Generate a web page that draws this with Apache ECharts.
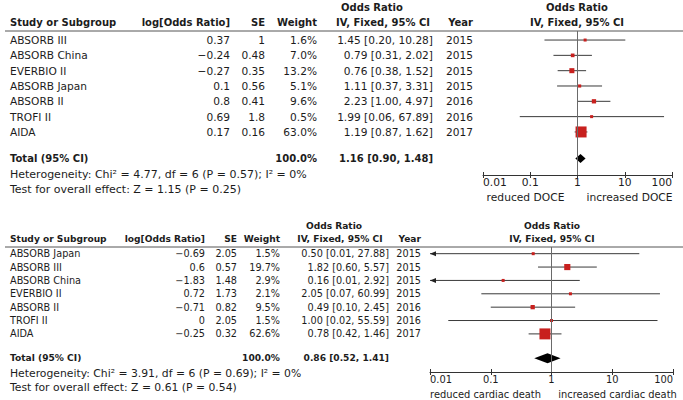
<!DOCTYPE html>
<html>
<head>
<meta charset="utf-8">
<script src="https://cdn.jsdelivr.net/npm/echarts@6/dist/echarts.min.js"></script>
<style>
  html, body { margin: 0; background: #fff; }
  #chart { width: 683px; height: 400px; }
</style>
</head>
<body>
<div id="chart"></div>
<script>
// --- top panel: DOCE ---
var studiesA = ['ABSORB III', 'ABSORB China', 'EVERBIO II', 'ABSORB Japan', 'ABSORB II', 'TROFI II', 'AIDA']
var logOrA = [0.37, -0.24, -0.27, 0.1, 0.8, 0.69, 0.17]
var seA = [1, 0.48, 0.35, 0.56, 0.41, 1.8, 0.16]
var weightA = [1.6, 7.0, 13.2, 5.1, 9.6, 0.5, 63.0]
var orA = [1.45, 0.79, 0.76, 1.11, 2.23, 1.99, 1.19]
var loA = [0.20, 0.31, 0.38, 0.37, 1.00, 0.06, 0.87]
var hiA = [10.28, 2.02, 1.52, 3.31, 4.97, 67.89, 1.62]
var yearA = [2015, 2015, 2015, 2015, 2016, 2016, 2017]
var totalA = [1.16, 0.90, 1.48]   // OR, lower, upper
var hetA = ['4.77', '6', '0.57', '0%']   // Chi2, df, P, I2
var testA = ['1.15', '0.25']             // Z, P
var sideA = ['reduced DOCE', 'increased DOCE']

// --- bottom panel: cardiac death ---
var studiesB = ['ABSORB Japan', 'ABSORB III', 'ABSORB China', 'EVERBIO II', 'ABSORB II', 'TROFI II', 'AIDA']
var logOrB = [-0.69, 0.6, -1.83, 0.72, -0.71, 0, -0.25]
var seB = [2.05, 0.57, 1.48, 1.73, 0.82, 2.05, 0.32]
var weightB = [1.5, 19.7, 2.9, 2.1, 9.5, 1.5, 62.6]
var orB = [0.50, 1.82, 0.16, 2.05, 0.49, 1.00, 0.78]
var loB = [0.01, 0.60, 0.01, 0.07, 0.10, 0.02, 0.42]
var hiB = [27.88, 5.57, 2.92, 60.99, 2.45, 55.59, 1.46]
var yearB = [2015, 2015, 2015, 2015, 2016, 2016, 2017]
var totalB = [0.86, 0.52, 1.41]
var hetB = ['3.91', '6', '0.69', '0%']
var testB = ['0.61', '0.54']
var sideB = ['reduced cardiac death', 'increased cardiac death']

var FONT = '"DejaVu Sans", sans-serif'
var INK = '#1c1c1c'
var RED = '#c8201e'

var panels = [
  {
    studies: studiesA, logOr: logOrA, se: seA, weight: weightA, or: orA, lo: loA, hi: hiA, year: yearA,
    total: totalA, het: hetA, test: testA, side: sideA,
    grid: { left: 483, right: 11, top: 31, height: 144 },
    yMin: -0.59, yMax: 8.81, totalRow: 7.73,
    cols: { study: 10, logOr: 230, se: 265, weight: 317, ci: 433, year: 473 },
    fs: 10.6, hfs: 10, axFs: 10.7, headY: 22, orHeadY: 7, orHeadX: 372, ivHeadX: 383, plotHeadX: 577,
    ruleY: 31, hetY: 174, testY: 189, hetFs: 11, sideW: 92, sideGap: 6, diamond: 4.5
  },
  {
    studies: studiesB, logOr: logOrB, se: seB, weight: weightB, or: orB, lo: loB, hi: hiB, year: yearB,
    total: totalB, het: hetB, test: testB, side: sideB,
    grid: { left: 430, right: 10, top: 247, height: 128 },
    yMin: -0.5, yMax: 8.85, totalRow: 7.83,
    cols: { study: 10, logOr: 205, se: 237, weight: 280, ci: 389, year: 421 },
    fs: 9.7, hfs: 9.1, axFs: 9.9, headY: 239, orHeadY: 226, orHeadX: 334, ivHeadX: 340, plotHeadX: 552,
    ruleY: 247, hetY: 373.5, testY: 387.5, hetFs: 10.8, sideW: 122, sideGap: 5, diamond: 5
  }
]

function num(v) { return String(v).replace('-', '\u2212') }
function ci(o, l, h) { return o.toFixed(2) + ' [' + l.toFixed(2) + ', ' + h.toFixed(2) + ']' }

function txt(x, y, s, align, size, bold) {
  return {
    type: 'text', x: x, y: y, silent: true,
    style: { text: s, align: align, verticalAlign: 'middle', fontSize: size, fontFamily: FONT,
             fontWeight: bold ? 'bold' : 'normal', fill: INK, lineHeight: Math.round(size + 1) }
  }
}

var grids = [], xAxes = [], yAxes = [], series = [], graphics = []

panels.forEach(function (p, k) {
  grids.push(Object.assign({ containLabel: false }, p.grid))

  var sideStyle = { fontFamily: FONT, fontSize: p.axFs, color: INK }
  // labelled axis, ticks below the line
  xAxes.push({
    type: 'log', logBase: 10, min: 0.01, max: 100, gridIndex: k, position: 'bottom',
    axisLine: { onZero: false, lineStyle: { color: '#333', width: 1 } },
    axisTick: { length: 3, lineStyle: { color: '#333' } },
    splitLine: { show: false },
    axisLabel: {
      margin: 2, fontSize: p.axFs, fontFamily: FONT, color: INK,
      alignMinLabel: 'left', alignMaxLabel: 'right',
      formatter: function (v) { return String(parseFloat((+v).toPrecision(6))) }
    },
    name: '{l|' + p.side[0] + '}{r|' + p.side[1] + '}',
    nameLocation: 'middle', nameGap: 17,
    nameTextStyle: {
      fontFamily: FONT, fontSize: p.axFs, color: INK,
      rich: {
        l: Object.assign({ width: p.sideW, align: 'right', padding: [0, p.sideGap, 0, 0] }, sideStyle),
        r: Object.assign({ width: p.sideW, align: 'left', padding: [0, 0, 0, p.sideGap] }, sideStyle)
      }
    }
  })
  // same scale, ticks above the line
  xAxes.push({
    type: 'log', logBase: 10, min: 0.01, max: 100, gridIndex: k, position: 'bottom',
    axisLine: { show: false, onZero: false },
    axisTick: { inside: true, length: 3, lineStyle: { color: '#333' } },
    axisLabel: { show: false }, splitLine: { show: false }
  })
  yAxes.push({ type: 'value', inverse: true, min: p.yMin, max: p.yMax, gridIndex: k, show: false })

  var xi = k * 2

  // confidence intervals, arrow when the bound runs off the axis
  series.push({
    type: 'custom', xAxisIndex: xi, yAxisIndex: k, clip: false, silent: true,
    encode: { x: [0, 1], y: 2 },
    data: p.studies.map(function (s, i) { return [p.lo[i], p.hi[i], i] }),
    renderItem: function (params, api) {
      var lo = api.value(0), hi = api.value(1), row = api.value(2)
      var a = api.coord([Math.max(lo, 0.01), row])
      var b = api.coord([Math.min(hi, 100), row])
      var kids = [{
        type: 'line', shape: { x1: a[0], y1: a[1], x2: b[0], y2: b[1] },
        style: { stroke: '#3a3a3a', lineWidth: 1 }
      }]
      if (lo <= 0.01) {
        kids.push({
          type: 'polygon',
          shape: { points: [[a[0], a[1]], [a[0] + 6, a[1] - 2.5], [a[0] + 6, a[1] + 2.5]] },
          style: { fill: '#222' }
        })
      }
      return { type: 'group', children: kids }
    }
  })

  // study estimates, box size from weight
  series.push({
    type: 'scatter', xAxisIndex: xi, yAxisIndex: k, silent: true,
    symbol: 'rect',
    symbolSize: function (d) { return Math.max(3, 11 * Math.sqrt(d[2] / 63)) },
    itemStyle: { color: RED, opacity: 1 },
    data: p.studies.map(function (s, i) { return [p.or[i], i, p.weight[i]] }),
    markLine: {
      silent: true, symbol: 'none', label: { show: false },
      lineStyle: { color: '#6a6a6a', type: 'solid', width: 1 },
      data: [{ xAxis: 1 }]
    },
    z: 3
  })

  // pooled diamond
  series.push({
    type: 'custom', xAxisIndex: xi, yAxisIndex: k, clip: false, silent: true,
    encode: { x: [0, 1, 2], y: 3 },
    data: [[p.total[0], p.total[1], p.total[2], p.totalRow]],
    renderItem: function (params, api) {
      var row = api.value(3)
      var c = api.coord([api.value(0), row])
      var l = api.coord([api.value(1), row])
      var r = api.coord([api.value(2), row])
      var h = p.diamond
      return {
        type: 'polygon', z2: 5,
        shape: { points: [[l[0], c[1]], [c[0], c[1] - h], [r[0], c[1]], [c[0], c[1] + h]] },
        style: { fill: '#000' }
      }
    },
    z: 4
  })

  // table rows, aligned to the same row scale
  var rows = p.studies.map(function (s, i) { return [1, i] })
  rows.push([1, p.totalRow])
  series.push({
    type: 'custom', xAxisIndex: xi, yAxisIndex: k, clip: false, silent: true,
    encode: { x: 0, y: 1 },
    data: rows,
    renderItem: function (params, api) {
      var i = params.dataIndex
      var y = api.coord([1, api.value(1)])[1]
      var c = p.cols, f = p.fs
      if (i === p.studies.length) {
        return { type: 'group', children: [
          txt(c.study, y, 'Total (95% CI)', 'left', p.hfs, true),
          txt(c.weight, y, '100.0%', 'right', p.hfs, true),
          txt(c.ci, y, ci(p.total[0], p.total[1], p.total[2]), 'right', p.hfs, true)
        ] }
      }
      return { type: 'group', children: [
        txt(c.study, y, p.studies[i], 'left', f),
        txt(c.logOr, y, num(p.logOr[i]), 'right', f),
        txt(c.se, y, num(p.se[i]), 'right', f),
        txt(c.weight, y, p.weight[i].toFixed(1) + '%', 'right', f),
        txt(c.ci, y, ci(p.or[i], p.lo[i], p.hi[i]), 'right', f),
        txt(c.year, y, String(p.year[i]), 'right', f)
      ] }
    }
  })

  // headers, rule and footnotes
  var c = p.cols, h = p.hfs
  graphics.push(
    txt(c.study, p.headY, 'Study or Subgroup', 'left', h, true),
    txt(c.logOr, p.headY, 'log[Odds Ratio]', 'right', h, true),
    txt(c.se, p.headY, 'SE', 'right', h, true),
    txt(c.weight, p.headY, 'Weight', 'right', h, true),
    txt(p.orHeadX, p.orHeadY, 'Odds Ratio', 'center', h, true),
    txt(p.ivHeadX, p.headY, 'IV, Fixed, 95% CI', 'center', h, true),
    txt(c.year, p.headY, 'Year', 'right', h, true),
    txt(p.plotHeadX, p.orHeadY, 'Odds Ratio', 'center', h, true),
    txt(p.plotHeadX, p.headY, 'IV, Fixed, 95% CI', 'center', h, true),
    {
      type: 'line', silent: true,
      shape: { x1: 5, y1: p.ruleY, x2: 683, y2: p.ruleY },
      style: { stroke: '#555', lineWidth: 1 }
    },
    txt(c.study, p.hetY, 'Heterogeneity: Chi\u00b2 = ' + p.het[0] + ', df = ' + p.het[1] +
      ' (P = ' + p.het[2] + '); I\u00b2 = ' + p.het[3], 'left', p.hetFs),
    txt(c.study, p.testY, 'Test for overall effect: Z = ' + p.test[0] + ' (P = ' + p.test[1] + ')', 'left', p.hetFs)
  )
})

var chart = echarts.init(document.getElementById('chart'), null, { renderer: 'svg' })
chart.setOption({
  animation: false,
  backgroundColor: '#fff',
  grid: grids,
  xAxis: xAxes,
  yAxis: yAxes,
  series: series,
  graphic: graphics
})
</script>
</body>
</html>
